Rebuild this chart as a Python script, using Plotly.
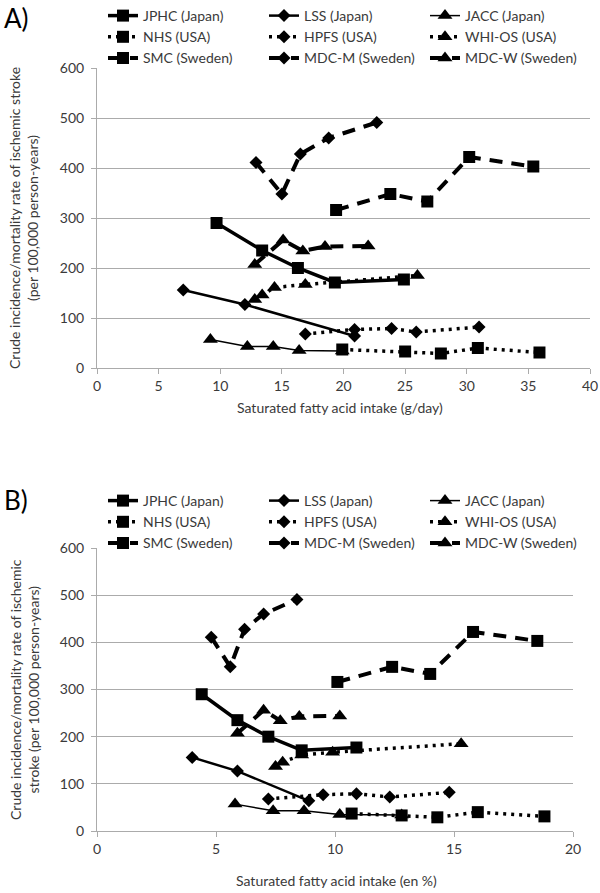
import plotly.graph_objects as go

# ---------------- data ----------------
series_names = ["JPHC (Japan)", "LSS (Japan)", "JACC (Japan)",
                "NHS (USA)", "HPFS (USA)", "WHI-OS (USA)",
                "SMC (Sweden)", "MDC-M (Sweden)", "MDC-W (Sweden)"]

# crude incidence/mortality rate (per 100,000 person-years)
jphc_y = [290, 235, 200, 171, 177]
lss_y = [156, 127, 64]
jacc_y = [57, 43, 43, 35, 34]
nhs_y = [37, 33, 29, 40, 31]
hpfs_y = [68, 77, 79, 72, 82]
whios_y = [137, 146, 161, 167, 185]
smc_y = [316, 348, 333, 422, 403]
mdcm_y = [411, 348, 428, 460, 491]
mdcw_y = [207, 256, 234, 243, 244]

# panel A: saturated fatty acid intake (g/day)
jphc_xa = [9.7, 13.4, 16.3, 19.3, 24.9]
lss_xa = [7.0, 12.0, 20.9]
jacc_xa = [9.2, 12.2, 14.3, 16.4, 19.9]
nhs_xa = [19.9, 25.0, 27.9, 30.9, 35.9]
hpfs_xa = [16.9, 20.9, 23.9, 25.9, 31.0]
whios_xa = [12.8, 13.4, 14.4, 16.9, 26.0]
smc_xa = [19.4, 23.8, 26.8, 30.2, 35.4]
mdcm_xa = [12.9, 15.0, 16.5, 18.8, 22.7]
mdcw_xa = [12.8, 15.1, 16.7, 18.5, 22.0]

# panel B: saturated fatty acid intake (en %)
jphc_xb = [4.4, 5.9, 7.2, 8.6, 10.9]
lss_xb = [4.0, 5.9, 8.9]
jacc_xb = [5.8, 7.4, 8.7, 10.2, 12.8]
nhs_xb = [10.7, 12.8, 14.3, 16.0, 18.8]
hpfs_xb = [7.2, 9.5, 10.9, 12.3, 14.8]
whios_xb = [7.5, 7.8, 8.6, 9.9, 15.3]
smc_xb = [10.1, 12.4, 14.0, 15.8, 18.5]
mdcm_xb = [4.8, 5.6, 6.2, 7.0, 8.4]
mdcw_xb = [5.9, 7.0, 7.7, 8.5, 10.2]

x_ticks_a = [0, 5, 10, 15, 20, 25, 30, 35, 40]
x_ticks_b = [0, 5, 10, 15, 20]
y_ticks = [0, 100, 200, 300, 400, 500, 600]

ys = [jphc_y, lss_y, jacc_y, nhs_y, hpfs_y, whios_y, smc_y, mdcm_y, mdcw_y]
xas = [jphc_xa, lss_xa, jacc_xa, nhs_xa, hpfs_xa, whios_xa, smc_xa, mdcm_xa, mdcw_xa]
xbs = [jphc_xb, lss_xb, jacc_xb, nhs_xb, hpfs_xb, whios_xb, smc_xb, mdcm_xb, mdcw_xb]

# ---------------- styles ----------------
DOT = "3px,5px"
DASH = "13px,9px"
styles = [
    dict(dash="solid", width=3.5, symbol="square", size=12),
    dict(dash="solid", width=2.5, symbol="diamond", size=10),
    dict(dash="solid", width=1.5, symbol="triangle-up", size=13),
    dict(dash=DOT, width=3.5, symbol="square", size=12),
    dict(dash=DOT, width=3.5, symbol="diamond", size=10),
    dict(dash=DOT, width=3.5, symbol="triangle-up", size=13),
    dict(dash=DASH, width=4, symbol="square", size=12),
    dict(dash=DASH, width=4, symbol="diamond", size=10),
    dict(dash=DASH, width=4, symbol="triangle-up", size=13),
]

FONT = "Lato"
TXT = "#3a3a3a"
GRID = "#ababab"
W, H = 600, 893

fig = go.Figure()
for name, y, xa, xb, st in zip(series_names, ys, xas, xbs, styles):
    for x, xax, yax, leg in [(xa, "x", "y", "legend"), (xb, "x2", "y2", "legend2")]:
        fig.add_trace(go.Scatter(
            x=x, y=y, name=name, mode="lines+markers",
            xaxis=xax, yaxis=yax, legend=leg,
            line=dict(color="black", width=st["width"], dash=st["dash"]),
            marker=dict(color="black", symbol=st["symbol"], size=st["size"]),
        ))

def py(px):
    return (H - px) / H

axis_common = dict(
    showgrid=False, zeroline=False, showline=True, linecolor=GRID, linewidth=1,
    ticks="outside", ticklen=5, tickcolor=GRID, automargin=False,
    tickfont=dict(family=FONT, size=14, color=TXT),
)
yaxis_common = dict(
    range=[0, 600], tickvals=y_ticks, showgrid=True, gridcolor=GRID, gridwidth=1,
    zeroline=False, showline=True, linecolor=GRID, linewidth=1, automargin=False,
    ticks="outside", ticklen=5, tickcolor=GRID, ticklabelstandoff=4,
    tickfont=dict(family=FONT, size=14, color=TXT),
)

legend_common = dict(
    orientation="h", xanchor="left", yanchor="top",
    xref="container", yref="container",
    entrywidth=116, entrywidthmode="pixels",
    font=dict(family=FONT, size=14, color=TXT),
    bgcolor="rgba(0,0,0,0)", tracegroupgap=0, itemwidth=30,
)

fig.update_layout(
    width=W, height=H,
    margin=dict(l=0, r=0, t=0, b=0, autoexpand=False),
    plot_bgcolor="white", paper_bgcolor="white",
    xaxis=dict(domain=[97 / W, 590 / W], anchor="y", range=[0, 40], tickvals=x_ticks_a, **axis_common),
    yaxis=dict(domain=[py(368), py(68)], anchor="x", **yaxis_common),
    xaxis2=dict(domain=[97 / W, 573 / W], anchor="y2", range=[0, 20], tickvals=x_ticks_b, **axis_common),
    yaxis2=dict(domain=[py(831), py(548)], anchor="x2", **yaxis_common),
    legend=dict(x=103 / W, y=py(0), **legend_common),
    legend2=dict(x=103 / W, y=py(485), **legend_common),
    showlegend=True,
)

ann_font = dict(family=FONT, size=14, color=TXT)
fig.add_annotation(text="A)", x=2 / W, y=py(18), xref="paper", yref="paper",
                   xanchor="left", yanchor="middle", showarrow=False,
                   font=dict(family=FONT, size=26, color="black"))
fig.add_annotation(text="B)", x=2 / W, y=py(500), xref="paper", yref="paper",
                   xanchor="left", yanchor="middle", showarrow=False,
                   font=dict(family=FONT, size=26, color="black"))
fig.add_annotation(text="Crude incidence/mortality rate of ischemic stroke<br>(per 100,000 person-years)",
                   x=23 / W, y=py(218), xref="paper", yref="paper", textangle=-90,
                   xanchor="center", yanchor="middle", showarrow=False, font=ann_font)
fig.add_annotation(text="Crude incidence/mortality rate of ischemic<br>stroke (per 100,000 person-years)",
                   x=24 / W, y=py(690), xref="paper", yref="paper", textangle=-90,
                   xanchor="center", yanchor="middle", showarrow=False, font=ann_font)
fig.add_annotation(text="Saturated fatty acid intake (g/day)",
                   x=340 / W, y=py(407), xref="paper", yref="paper",
                   xanchor="center", yanchor="middle", showarrow=False, font=ann_font)
fig.add_annotation(text="Saturated fatty acid intake (en %)",
                   x=336 / W, y=py(880), xref="paper", yref="paper",
                   xanchor="center", yanchor="middle", showarrow=False, font=ann_font)

fig.write_html("out.html", config={"displayModeBar": False},
               post_script="document.body.style.margin='0';document.body.style.overflow='hidden';")
